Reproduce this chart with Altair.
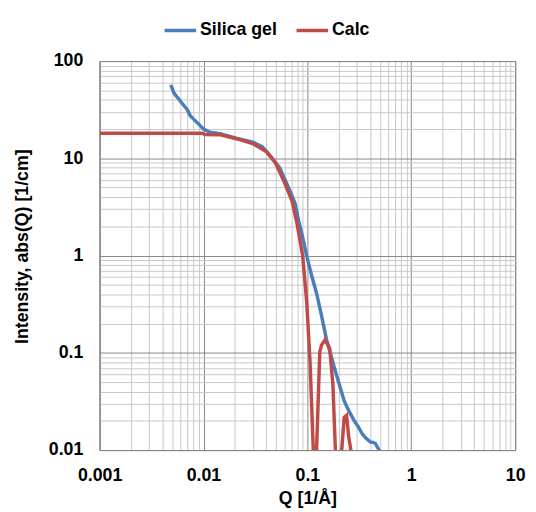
import altair as alt
import pandas as pd

# ---- data ----
silica_q = [0.00484, 0.0052, 0.0060, 0.00695, 0.00748, 0.00865, 0.0100, 0.01156,
            0.01438, 0.0207, 0.0297, 0.0370, 0.0459, 0.0540, 0.0615, 0.0700,
            0.0764, 0.0822, 0.0883, 0.0986, 0.1100, 0.1225, 0.137, 0.152, 0.167,
            0.182, 0.203, 0.226, 0.252, 0.282, 0.310, 0.337, 0.365, 0.405, 0.430,
            0.451, 0.470, 0.496]
silica_i = [56.9, 46.9, 38.6, 31.8, 27.3, 23.4, 20.0, 18.5,
            17.9, 16.1, 14.7, 13.1, 10.0, 8.0, 5.9, 4.3,
            3.39, 2.3, 1.69, 0.98, 0.62, 0.41, 0.24, 0.14, 0.098,
            0.07, 0.047, 0.032, 0.025, 0.0201, 0.0172, 0.0147, 0.0133, 0.0121, 0.0120,
            0.0117, 0.0108, 0.0098]

calc_q = [0.001, 0.0097, 0.0103, 0.01438, 0.0207, 0.0297, 0.0404, 0.0495, 0.0595,
          0.0711, 0.0790, 0.0900, 0.0986, 0.106, 0.114, 0.118, 0.1225, 0.1316,
          0.1367, 0.148, 0.164, 0.176, 0.186, 0.200, 0.214, 0.226, 0.238, 0.250,
          0.262, 0.275]
calc_i = [18.1, 18.1, 17.6, 17.5, 15.9, 14.2, 11.7, 8.9, 5.8,
          3.66, 2.2, 1.0, 0.33, 0.081, 0.01, 0.0001, 0.01, 0.102,
          0.12, 0.136, 0.111, 0.047, 0.01, 0.0001, 0.01, 0.0217, 0.0227, 0.0136,
          0.01, 0.0001]

series_names = ["Silica gel", "Calc"]
series_colors = ["#4a7ebb", "#be4b48"]

x_decades = [0.001, 0.01, 0.1, 1]
y_decades = [0.01, 0.1, 1, 10]
grid_mult = [1, 2, 3, 4, 5, 6, 7, 8, 9]
x_grid = [round(d * m, 6) for d in x_decades for m in grid_mult] + [10]
y_grid = [round(d * m, 6) for d in y_decades for m in grid_mult] + [100]

FONT = "Liberation Sans"
MAJOR = "abs(log(datum.value)/LN10 - round(log(datum.value)/LN10)) < 1e-6"
grid_color = {"condition": {"test": MAJOR, "value": "#868686"}, "value": "#c8c8c8"}
label_expr = MAJOR + " ? format(datum.value, '~g') : ''"

df = pd.DataFrame({
    "Q": silica_q + calc_q,
    "I": silica_i + calc_i,
    "Series": [series_names[0]] * len(silica_q) + [series_names[1]] * len(calc_q),
})

x_enc = alt.X("Q:Q",
              scale=alt.Scale(type="log", domain=[0.001, 10], nice=False),
              axis=alt.Axis(values=x_grid, labelExpr=label_expr, gridColor=grid_color,
                            grid=True, ticks=False, tickSize=0, labelPadding=17,
                            labelFlush=False, labelOverlap=False, labelBound=False,
                            labelFont=FONT, labelFontSize=18, labelFontWeight="bold",
                            labelColor="black", domainColor="#868686",
                            title="Q [1/Å]", titleFont=FONT, titleFontSize=18,
                            titleFontWeight="bold", titleColor="black",
                            titleBaseline="alphabetic", titleY=54))
y_enc = alt.Y("I:Q",
              scale=alt.Scale(type="log", domain=[0.01, 100], nice=False),
              axis=alt.Axis(values=y_grid, labelExpr=label_expr, gridColor=grid_color,
                            grid=True, ticks=False, tickSize=0, labelPadding=17,
                            labelFlush=False, labelOverlap=False, labelBound=False,
                            labelFont=FONT, labelFontSize=18, labelFontWeight="bold",
                            labelColor="black", domainColor="#868686",
                            title="Intensity, abs(Q) [1/cm]", titleFont=FONT,
                            titleFontSize=18, titleFontWeight="bold", titleColor="black",
                            titleAngle=270, titleBaseline="alphabetic", titleAlign="center",
                            titleX=-73, titleY=188))
color_enc = alt.Color("Series:N",
                      scale=alt.Scale(domain=series_names, range=series_colors),
                      legend=alt.Legend(title=None, orient="none", legendX=64, legendY=-49,
                                        direction="horizontal", symbolType="stroke",
                                        symbolSize=1024, symbolStrokeWidth=3.5,
                                        labelFont=FONT, labelFontSize=18,
                                        labelFontWeight="bold", labelColor="black",
                                        labelOffset=2, columnPadding=12, padding=0))

base = alt.Chart(df).mark_line(clip=True, strokeWidth=3.5).encode(x=x_enc, y=y_enc, color=color_enc)
silica_layer = base.transform_filter(alt.datum.Series == series_names[0])
calc_layer = base.transform_filter(alt.datum.Series == series_names[1])

chart = alt.layer(silica_layer, calc_layer).properties(
    width=422, height=395,
    autosize=alt.AutoSizeParams(type="none"),
    padding={"left": 93, "top": 50, "right": 13, "bottom": 58},
).configure_view(stroke="#868686", strokeWidth=1)

chart.save("out.html", embed_options={"renderer": "svg", "actions": False})
